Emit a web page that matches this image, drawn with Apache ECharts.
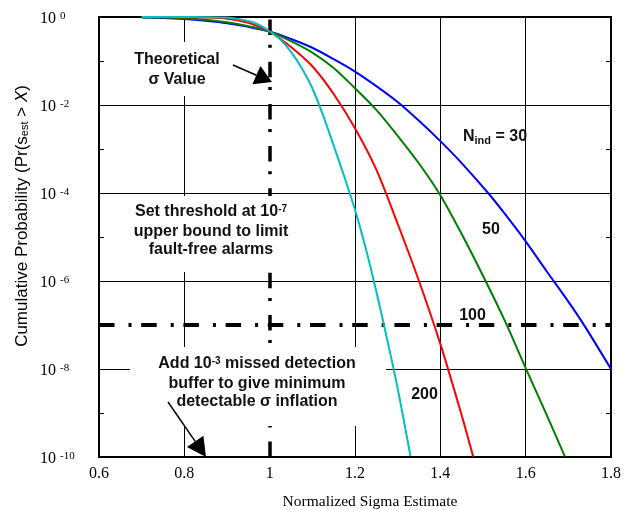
<!DOCTYPE html>
<html>
<head>
<meta charset="utf-8">
<script src="https://cdn.jsdelivr.net/npm/echarts@6/dist/echarts.min.js"></script>
<style>
  html, body { margin: 0; padding: 0; background: #fff; }
  #chart { width: 624px; height: 510px; }
</style>
</head>
<body>
<div id="chart"></div>
<script>
// Exceedance probability Pr(s_est > X) of the normalized sigma estimate,
// one curve per number of independent samples
const sampleCounts = [30, 50, 100, 200];

const x30 = [0.70, 0.75, 0.80, 0.85, 0.90, 0.95, 1.00, 1.05, 1.10, 1.15, 1.20, 1.25, 1.30, 1.35, 1.40, 1.45, 1.512, 1.55, 1.60, 1.65, 1.70, 1.738, 1.80];
const p30 = [0.977, 0.955, 0.902, 0.822, 0.724, 0.596, 0.468, 0.316, 0.200, 0.110, 0.0575, 0.0269, 0.0117, 4.37e-3, 1.51e-3, 4.79e-4, 1.0e-4, 3.47e-5, 7.94e-6, 1.62e-6, 3.39e-7, 9.55e-8, 1.0e-8];

const x50 = [0.70, 0.75, 0.80, 0.85, 0.90, 0.95, 1.00, 1.05, 1.10, 1.15, 1.20, 1.25, 1.30, 1.35, 1.40, 1.45, 1.50, 1.55, 1.60, 1.65, 1.692];
const p50 = [0.993, 0.977, 0.933, 0.871, 0.759, 0.617, 0.468, 0.282, 0.155, 0.0692, 0.0240, 7.76e-3, 2.0e-3, 4.68e-4, 8.91e-5, 1.17e-5, 1.32e-6, 1.32e-7, 1.05e-8, 8.71e-10, 1.02e-10];

const x100 = [0.70, 0.75, 0.80, 0.85, 0.90, 0.95, 0.975, 1.00, 1.05, 1.10, 1.15, 1.20, 1.25, 1.30, 1.35, 1.40, 1.45, 1.477];
const p100 = [1.0, 0.995, 0.989, 0.973, 0.912, 0.741, 0.603, 0.468, 0.209, 0.0759, 0.0178, 2.95e-3, 3.39e-4, 2.0e-5, 1.0e-6, 3.72e-8, 8.91e-10, 1.02e-10];

const x200 = [0.70, 0.80, 0.85, 0.90, 0.95, 0.975, 1.00, 1.025, 1.05, 1.075, 1.10, 1.125, 1.15, 1.175, 1.20, 1.225, 1.25, 1.275, 1.30, 1.33];
const p200 = [1.0, 0.998, 0.993, 0.973, 0.813, 0.661, 0.468, 0.309, 0.162, 0.0692, 0.0240, 5.89e-3, 1.20e-3, 2.34e-4, 4.17e-5, 5.62e-6, 5.75e-7, 4.90e-8, 3.63e-9, 1.05e-10];

const curveColors = ['#0000ff', '#008000', '#ff0000', '#00bfbf'];

// Reference lines
const gridX = [0.8, 1.2, 1.4, 1.6];
const gridY = [1e-2, 1e-4, 1e-6, 1e-8];
const thresholdP = 1e-7;
const theoreticalSigma = 1.0;

const xMin = 0.6, xMax = 1.8, xStep = 0.2;
const yMin = 1e-10, yMax = 1;

const pairs = (xs, ps) => xs.map((x, i) => [x, ps[i]]);
const curveData = [pairs(x30, p30), pairs(x50, p50), pairs(x100, p100), pairs(x200, p200)];

const serif = 'Liberation Serif, Times New Roman, serif';
const sans = 'Liberation Sans, Arial, sans-serif';
const dashDot = [15.5, 14, 3, 9.7];

const chart = echarts.init(document.getElementById('chart'), null, { renderer: 'canvas' });

const curveSeries = curveData.map((d, i) => ({
  name: 'N' + sampleCounts[i],
  type: 'line',
  data: d,
  showSymbol: false,
  smooth: 0.3,
  z: 5,
  lineStyle: { color: curveColors[i], width: 2 },
  silent: true
}));

const solid = { color: '#000', width: 1, type: 'solid' };
const guideSeries = {
  type: 'line',
  data: [],
  silent: true,
  z: 2,
  markLine: {
    silent: true,
    symbol: 'none',
    precision: 12,
    label: { show: false },
    animation: false,
    data: [
      ...gridX.map(v => ({ xAxis: v, lineStyle: solid })),
      ...gridY.map(v => ({ yAxis: v, lineStyle: solid })),
      { xAxis: theoreticalSigma, lineStyle: { color: '#000', width: 3.5, type: dashDot, cap: 'butt' } },
      { yAxis: thresholdP, lineStyle: { color: '#000', width: 4, type: dashDot, cap: 'butt' } }
    ]
  }
};

function arrow(tail, tip, headLen, halfW) {
  const dx = tip[0] - tail[0], dy = tip[1] - tail[1];
  const len = Math.hypot(dx, dy);
  const ux = dx / len, uy = dy / len;
  const bx = tip[0] - ux * headLen, by = tip[1] - uy * headLen;
  return [
    { type: 'line', z: 20, shape: { x1: tail[0], y1: tail[1], x2: bx, y2: by }, style: { stroke: '#000', lineWidth: 1.5 } },
    { type: 'polygon', z: 20, shape: { points: [tip, [bx - uy * halfW, by + ux * halfW], [bx + uy * halfW, by - ux * halfW]] }, style: { fill: '#000' } }
  ];
}

const noteFont = 'bold 16px ' + sans;
const boldText = (text, x, y) => ({
  type: 'text', z: 20, x, y,
  style: { text, font: noteFont, fill: '#111', align: 'center', verticalAlign: 'middle' }
});

const supRich = {
  t: { font: noteFont, fill: '#111', lineHeight: 16, verticalAlign: 'bottom', padding: [3, 0, 0, 0] },
  s: { font: 'bold 10px ' + sans, fill: '#111', lineHeight: 10, verticalAlign: 'top' }
};

const option = {
  animation: false,
  backgroundColor: '#fff',
  grid: { left: 99, right: 11, top: 17, bottom: 53, show: true, borderColor: '#000', borderWidth: 2 },
  xAxis: {
    type: 'value', min: xMin, max: xMax, interval: xStep,
    axisLine: { show: true, lineStyle: { color: '#000', width: 2 } },
    axisTick: { show: false },
    splitLine: { show: false },
    axisLabel: { color: '#000', fontFamily: serif, fontSize: 16, margin: 9 }
  },
  yAxis: [
    {
      type: 'log', logBase: 10, min: yMin, max: yMax, interval: 1,
      axisLine: { show: true, lineStyle: { color: '#000', width: 2 } },
      axisTick: { show: true, inside: true, length: 5, lineStyle: { color: '#000', width: 1 } },
      splitLine: { show: false },
      axisLabel: {
        align: 'left', margin: 59, padding: [3, 0, 0, 0],
        formatter: v => {
          const e = Math.round(Math.log10(v));
          return e % 2 === 0 ? '{b|10 }{sup|' + (e === 0 ? '0' : e) + '}' : '';
        },
        rich: {
          b: { fontFamily: serif, fontSize: 16, lineHeight: 16, color: '#000', verticalAlign: 'bottom', padding: [5, 0, 0, 0] },
          sup: { fontFamily: serif, fontSize: 11, lineHeight: 11, color: '#000', verticalAlign: 'top' }
        }
      }
    },
    {
      type: 'log', logBase: 10, min: yMin, max: yMax, interval: 1, position: 'right',
      axisLine: { show: true, lineStyle: { color: '#000', width: 2 } },
      axisTick: { show: true, inside: true, length: 5, lineStyle: { color: '#000', width: 1 } },
      splitLine: { show: false },
      axisLabel: { show: false }
    }
  ],
  series: [guideSeries, ...curveSeries],
  graphic: [
    // white backing boxes behind the notes
    { type: 'rect', z: 15, shape: { x: 120, y: 42, width: 112, height: 54 }, style: { fill: '#fff' } },
    { type: 'rect', z: 15, shape: { x: 110, y: 196, width: 200, height: 76 }, style: { fill: '#fff' } },
    { type: 'rect', z: 15, shape: { x: 130, y: 347, width: 256, height: 79 }, style: { fill: '#fff' } },

    boldText('Theoretical', 177, 60),
    boldText('σ Value', 177, 80),
    ...arrow([233, 65], [272, 82], 17, 10),

    { type: 'text', z: 20, x: 211, y: 212,
      style: { text: '{t|Set threshold at 10}{s|-7}', align: 'center', verticalAlign: 'middle', rich: supRich } },
    boldText('upper bound to limit', 211, 232),
    boldText('fault-free alarms', 211, 250),

    { type: 'text', z: 20, x: 257, y: 364,
      style: { text: '{t|Add 10}{s|-3}{t| missed detection}', align: 'center', verticalAlign: 'middle', rich: supRich } },
    boldText('buffer to give minimum', 257, 383.5),
    boldText('detectable σ inflation', 257, 402),
    ...arrow([168, 402], [206, 457], 19, 10),

    {
      type: 'text', z: 20, x: 463, y: 137,
      style: {
        text: '{b|N}{s|ind}{b| = 30}', align: 'left', verticalAlign: 'middle',
        rich: { b: { font: noteFont, fill: '#111' }, s: { font: 'bold 11px ' + sans, fill: '#111', verticalAlign: 'bottom', padding: [7, 0, 0, 0] } }
      }
    },
    boldText('50', 491, 230),
    boldText('100', 472.5, 316),
    boldText('200', 424.5, 395),

    {
      type: 'text', z: 20, x: 370, y: 502,
      style: { text: 'Normalized Sigma Estimate', font: '15.5px ' + serif, fill: '#000', align: 'center', verticalAlign: 'middle' }
    },
    {
      type: 'text', z: 20, x: 22, y: 216, rotation: Math.PI / 2,
      style: {
        text: '{a|Cumulative Probability (Pr(s}{s|est}{a| > }{i|X}{a|)}', align: 'center', verticalAlign: 'middle',
        rich: {
          a: { font: '17px ' + sans, fill: '#000' },
          s: { font: '11px ' + sans, fill: '#000', verticalAlign: 'bottom', padding: [6, 0, 0, 0] },
          i: { font: 'italic 17px ' + sans, fill: '#000' }
        }
      }
    }
  ]
};

chart.setOption(option);
</script>
</body>
</html>
